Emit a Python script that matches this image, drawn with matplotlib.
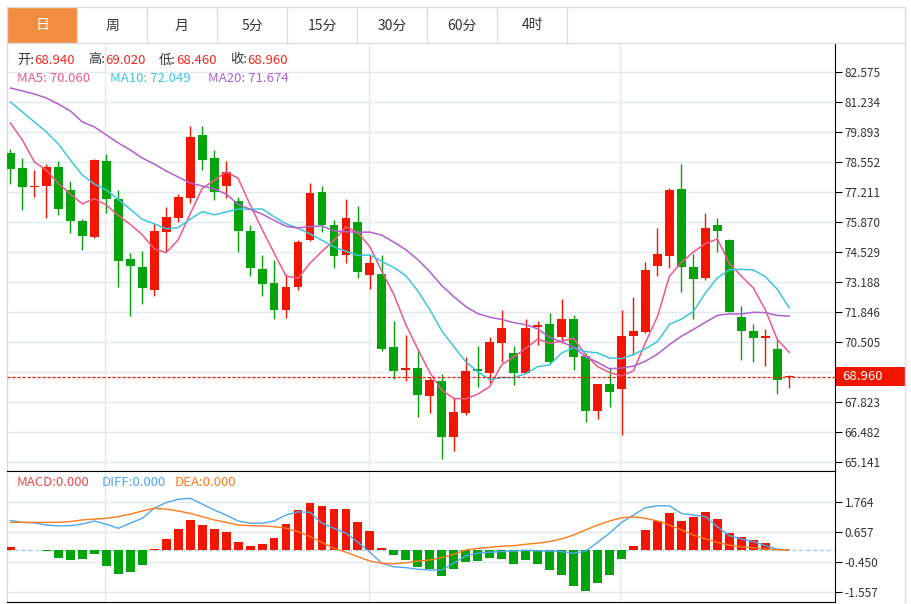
"""
Daily candlestick chart with MA5/MA10/MA20 and a MACD panel,
laid out like a quote-page widget (tab strip on top, price scale on the right).
"""
import matplotlib
matplotlib.use("Agg")
import matplotlib.pyplot as plt
from matplotlib.patches import Rectangle
import numpy as np
import pandas as pd

plt.rcParams["font.family"] = ["Noto Sans CJK SC", "DejaVu Sans"]

# ---- data ----
tab_names = ["日", "周", "月", "5分", "15分", "30分", "60分", "4时"]

opens = [78.95, 78.28, 77.43, 77.48, 78.33, 77.30, 75.91, 75.20, 78.60, 76.90,
         74.22, 73.86, 72.83, 75.42, 76.05, 76.94, 79.76, 78.73, 77.48, 76.81,
         75.47, 73.77, 73.14, 71.94, 72.96, 75.07, 77.21, 75.74, 74.39, 75.87,
         73.50, 73.55, 70.28, 69.25, 69.34, 68.09, 68.76, 66.26, 67.33, 69.30,
         69.12, 70.46, 70.01, 69.12, 71.18, 71.31, 70.73, 71.53, 69.88, 67.42,
         68.63, 68.41, 70.77, 70.95, 73.90, 74.35, 77.35, 73.86, 73.37, 75.74,
         75.07, 71.62, 71.00, 70.68, 70.19, 68.94]
highs = [79.13, 78.73, 78.19, 78.46, 78.60, 77.70, 76.00, 78.69, 78.91, 77.30,
         74.48, 74.57, 75.83, 76.54, 77.12, 80.16, 80.16, 79.09, 78.60, 76.99,
         75.74, 74.39, 74.17, 73.55, 75.07, 77.61, 77.48, 75.96, 76.90, 76.59,
         74.39, 74.39, 71.44, 70.82, 70.19, 68.94, 69.08, 68.00, 69.84, 70.33,
         70.73, 71.94, 70.33, 71.53, 71.44, 71.80, 72.43, 71.71, 70.01, 68.63,
         69.34, 71.94, 72.52, 74.08, 75.60, 77.39, 78.46, 74.44, 76.27, 76.05,
         75.10, 72.12, 71.31, 71.09, 70.64, 69.02]
lows = [77.57, 76.41, 76.99, 76.05, 76.18, 75.38, 74.62, 75.15, 76.27, 72.96,
        71.67, 72.20, 72.56, 74.57, 75.87, 76.72, 78.19, 76.85, 76.94, 74.53,
        73.46, 72.56, 71.53, 71.58, 72.83, 75.02, 75.42, 73.81, 74.04, 73.37,
        72.88, 70.10, 68.85, 68.76, 67.15, 67.33, 65.28, 65.63, 67.24, 68.49,
        68.67, 69.61, 68.58, 69.12, 70.37, 69.52, 70.46, 69.25, 66.93, 67.06,
        67.60, 66.35, 69.92, 70.91, 73.46, 73.81, 72.74, 71.53, 73.28, 74.53,
        71.85, 69.70, 69.61, 69.43, 68.18, 68.46]
closes = [78.24, 77.43, 77.48, 78.33, 76.45, 75.91, 75.24, 78.64, 76.90, 74.13,
          73.90, 72.92, 75.47, 76.09, 76.99, 79.67, 78.64, 77.21, 78.11, 75.47,
          73.81, 73.10, 71.94, 72.96, 74.98, 77.17, 75.74, 74.35, 76.05, 73.64,
          74.04, 70.19, 69.21, 69.34, 68.14, 68.81, 66.26, 67.38, 69.21, 69.21,
          70.51, 71.13, 69.12, 71.13, 71.27, 69.61, 71.53, 69.84, 67.42, 68.63,
          68.27, 70.77, 71.00, 73.72, 74.44, 77.30, 73.86, 73.32, 75.60, 75.47,
          71.85, 71.00, 70.68, 70.77, 68.81, 68.96]

# MA values before the window is full (history not on screen)
ma5_head = [80.29, 79.53, 78.55, 78.19]
ma10_head = [81.23, 80.79, 80.34, 79.89, 79.36, 78.64, 77.97, 77.57, 77.30]
ma20_head = [81.86, 81.73, 81.59, 81.41, 81.14, 80.83, 80.34, 80.12, 79.76, 79.40,
             79.09, 78.73, 78.46, 78.15, 77.88, 77.61, 77.48, 77.35, 77.12]

macd_hist = [0.12, 0.00, 0.00, -0.03, -0.31, -0.36, -0.32, -0.14, -0.59, -0.89,
             -0.81, -0.55, 0.02, 0.40, 0.78, 1.10, 0.93, 0.76, 0.67, 0.28,
             0.14, 0.21, 0.43, 0.95, 1.47, 1.75, 1.62, 1.51, 1.51, 1.04,
             0.71, 0.06, -0.18, -0.37, -0.62, -0.71, -0.95, -0.69, -0.45, -0.39,
             -0.28, -0.34, -0.53, -0.38, -0.53, -0.74, -0.92, -1.32, -1.52, -1.22,
             -0.91, -0.32, 0.13, 0.73, 1.08, 1.35, 1.06, 1.20, 1.39, 1.14,
             0.64, 0.49, 0.36, 0.24, 0.00, 0.00]
diff_line = [1.09, 1.02, 1.00, 0.92, 0.89, 0.90, 0.96, 1.07, 0.95, 0.80,
             0.99, 1.17, 1.54, 1.75, 1.87, 1.91, 1.69, 1.48, 1.29, 1.07,
             0.99, 0.99, 1.07, 1.29, 1.41, 1.39, 0.99, 0.80, 0.62, 0.28,
             -0.08, -0.49, -0.62, -0.65, -0.71, -0.74, -0.74, -0.49, -0.21, -0.12,
             -0.08, -0.06, -0.04, -0.01, -0.03, -0.04, -0.06, -0.12, -0.04, 0.28,
             0.62, 1.02, 1.29, 1.56, 1.63, 1.63, 1.35, 1.29, 1.23, 0.86,
             0.53, 0.41, 0.31, 0.16, 0.03, 0.00]
dea_line = [1.02, 1.02, 1.02, 1.02, 1.02, 1.05, 1.11, 1.14, 1.17, 1.23,
            1.32, 1.44, 1.54, 1.51, 1.44, 1.35, 1.23, 1.11, 1.02, 0.92,
            0.90, 0.89, 0.86, 0.80, 0.68, 0.49, 0.28, 0.06, -0.08, -0.25,
            -0.41, -0.49, -0.51, -0.47, -0.41, -0.37, -0.28, -0.16, 0.00, 0.06,
            0.10, 0.14, 0.16, 0.21, 0.25, 0.31, 0.41, 0.55, 0.74, 0.92,
            1.07, 1.19, 1.22, 1.17, 1.07, 0.92, 0.74, 0.55, 0.41, 0.28,
            0.18, 0.12, 0.08, 0.04, 0.01, 0.00]

price_ticks = [82.575, 81.234, 79.893, 78.552, 77.211, 75.870, 74.529,
               73.188, 71.846, 70.505, 69.164, 67.823, 66.482, 65.141]
macd_ticks = [1.764, 0.657, -0.450, -1.557]
grid_idx = [8, 30, 51]

header = [("开:", "68.940"), ("高:", "69.020"), ("低:", "68.460"), ("收:", "68.960")]
ma_labels = [("MA5: 70.060", 17), ("MA10: 72.049", 110), ("MA20: 71.674", 208)]
macd_labels = [("MACD:0.000", 17), ("DIFF:0.000", 102), ("DEA:0.000", 175)]

RED = "#f21600"
GREEN = "#03a40b"
MA5_C, MA10_C, MA20_C = "#f0588a", "#3ec6e0", "#b25fcf"
GRID = "#e2eaf0"

# ---- moving averages ----
s = pd.Series(closes)
ma5 = s.rolling(5).mean().to_numpy()
ma10 = s.rolling(10).mean().to_numpy()
ma20 = s.rolling(20).mean().to_numpy()
ma5[:len(ma5_head)] = ma5_head
ma10[:len(ma10_head)] = ma10_head
ma20[:len(ma20_head)] = ma20_head

W, H = 911, 604
fig = plt.figure(figsize=(W / 100, H / 100), dpi=100)


def box(x0, y0, x1, y1):
    # pixel rect (top-left origin) -> figure fraction
    return [x0 / W, 1 - y1 / H, (x1 - x0) / W, (y1 - y0) / H]


ax = fig.add_axes(box(7, 43, 835, 471))
ax2 = fig.add_axes(box(7, 471, 835, 602))
idx = np.arange(len(closes))
xlim = (-0.29, 68.82)

# ---- price panel ----
for i in idx:
    o, c = opens[i], closes[i]
    col = RED if c >= o else GREEN
    ax.vlines(i, lows[i], highs[i], color=col, lw=1, zorder=3)
    ax.add_patch(Rectangle((i - 0.37, min(o, c)), 0.74, max(abs(c - o), 0.05),
                           facecolor=col, edgecolor="none", zorder=4))

ax.plot(idx, ma5, color=MA5_C, lw=1.1, zorder=5)
ax.plot(idx, ma10, color=MA10_C, lw=1.1, zorder=5)
ax.plot(idx, ma20, color=MA20_C, lw=1.1, zorder=5)
ax.axhline(closes[-1], color=RED, lw=0.9, ls=(0, (2.5, 1.5)), zorder=6)

ax.set_xlim(*xlim)
ax.set_ylim(64.739, 83.871)
ax.set_xticks([])
ax.yaxis.tick_right()
ax.set_yticks(price_ticks)
ax.set_yticklabels(["" if abs(t - 69.164) < 1e-6 else f"{t:.3f}" for t in price_ticks])
ax.tick_params(axis="y", length=5, width=0.8, pad=2, labelsize=8.5, labelcolor="#333333")
ax.grid(axis="y", color=GRID, lw=1, zorder=0)
for g in grid_idx:
    ax.axvline(g - 0.1, color=GRID, lw=1, zorder=0)
ax.spines["top"].set_visible(False)
ax.spines["left"].set_color("#d8d8d8")
ax.spines["bottom"].set_color("black")
ax.spines["right"].set_color("black")

# ---- MACD panel ----
bar_cols = [RED if v >= 0 else GREEN for v in macd_hist]
ax2.bar(idx, macd_hist, width=0.74, color=bar_cols, zorder=3)
ax2.axhline(0, color="#9fd3ee", lw=1, ls=(0, (3, 2)), zorder=2)
ax2.plot(idx, diff_line, color="#4ea8f0", lw=1, zorder=4)
ax2.plot(idx, dea_line, color="#ff7a1a", lw=1, zorder=4)
ax2.set_xlim(*xlim)
ax2.set_ylim(-1.919, 2.915)
ax2.set_xticks([])
ax2.yaxis.tick_right()
ax2.set_yticks(macd_ticks)
ax2.set_yticklabels([f"{t:.3f}" for t in macd_ticks])
ax2.tick_params(axis="y", length=5, width=0.8, pad=2, labelsize=8.5, labelcolor="#333333")
ax2.grid(axis="y", color=GRID, lw=1, zorder=0)
for g in grid_idx:
    ax2.axvline(g - 0.1, color=GRID, lw=1, zorder=0)
ax2.spines["left"].set_color("#d8d8d8")
for side in ("top", "bottom", "right"):
    ax2.spines[side].set_color("black")

# ---- overlay: tabs, header texts, price tag ----
over = fig.add_axes([0, 0, 1, 1])
over.set_xlim(0, W)
over.set_ylim(H, 0)
over.axis("off")
over.patch.set_alpha(0)

border = "#dcdcdc"
over.plot([7, 905, 905, 7, 7], [7, 7, 43, 43, 7], color=border, lw=1)
over.plot([905, 905], [43, 602], color=border, lw=1)
for k, name in enumerate(tab_names):
    x0 = 7 + 70 * k
    if k == 0:
        over.add_patch(Rectangle((x0, 8), 70, 35, facecolor="#f28c40", edgecolor="none"))
    over.text(x0 + 35, 25.5, name, ha="center", va="center", fontsize=10,
              color="white" if k == 0 else "#333333")
    over.plot([x0 + 70, x0 + 70], [7, 43], color=border, lw=1)

hx = [17, 88, 159, 230]
for (lab, val), x in zip(header, hx):
    over.text(x, 60, lab, fontsize=9.5, color="#333333", va="center")
    over.text(x + 17, 60, val, fontsize=9.5, color="#f5271c", va="center")

for (txt, x), col in zip(ma_labels, (MA5_C, MA10_C, MA20_C)):
    over.text(x, 78, txt, fontsize=9.5, color=col, va="center")

for (txt, x), col in zip(macd_labels, ("#f04848", "#4ea8f0", "#ff7a1a")):
    over.text(x, 483, txt, fontsize=9.5, color=col, va="center")

over.add_patch(Rectangle((836, 367), 69, 19, facecolor=RED, edgecolor="none"))
over.text(842, 376.5, f"{closes[-1]:.3f}", fontsize=9.5, color="white", va="center")

fig.savefig("out.png", dpi=100)
